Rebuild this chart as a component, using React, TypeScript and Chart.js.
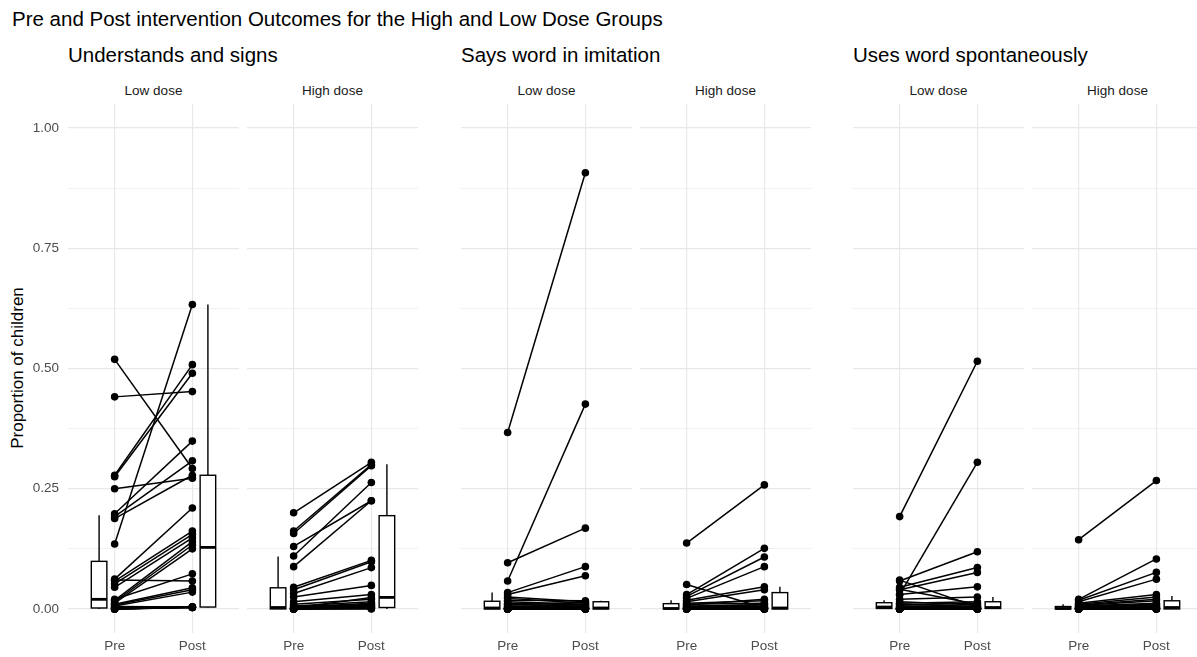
import React, { useEffect, useRef } from "react";
import Chart from "chart.js/auto";

// ---------- data ----------
const phases = ["Pre", "Post"];
const outcomeTitles = ["Understands and signs", "Says word in imitation", "Uses word spontaneously"];
const doseLabels = ["Low dose", "High dose"];
const mainTitle = "Pre and Post intervention Outcomes for the High and Low Dose Groups";
const yAxisTitle = "Proportion of children";
const yMajorTicks = [0, 0.25, 0.5, 0.75, 1];
const yMinorTicks = [0.125, 0.375, 0.625, 0.875];

const understandsLowPre = [0.519, 0.441, 0.278, 0.275, 0.25, 0.198, 0.192, 0.188, 0.135, 0.062, 0.058, 0.052, 0.045, 0.06, 0.018, 0.015, 0.012, 0.02, 0.01, 0.008, 0.006, 0.005, 0.003, 0.002, 0, 0, 0, 0.002, 0, 0];
const understandsLowPost = [0.292, 0.452, 0.508, 0.49, 0.272, 0.349, 0.308, 0.278, 0.633, 0.21, 0.162, 0.155, 0.148, 0.058, 0.14, 0.133, 0.125, 0.073, 0.044, 0.04, 0.035, 0.004, 0.004, 0.003, 0.004, 0.003, 0.004, 0.003, 0.003, 0.004];
const understandsHighPre = [0.2, 0.162, 0.157, 0.13, 0.11, 0.088, 0.045, 0.04, 0.032, 0.025, 0.015, 0.01, 0.006, 0.004, 0.003, 0.002, 0.001, 0, 0, 0, 0, 0, 0, 0.002];
const understandsHighPost = [0.305, 0.3, 0.298, 0.225, 0.263, 0.225, 0.101, 0.098, 0.086, 0.049, 0.03, 0.02, 0.015, 0.012, 0.01, 0.024, 0.008, 0.005, 0.004, 0.003, 0.002, 0, 0.001, 0.006];
const saysLowPre = [0.367, 0.058, 0.096, 0.034, 0.03, 0.025, 0.022, 0.018, 0.015, 0.012, 0.01, 0.008, 0.006, 0.005, 0.004, 0.003, 0.002, 0.002, 0.001, 0.001, 0, 0, 0, 0, 0, 0, 0, 0, 0, 0];
const saysLowPost = [0.907, 0.426, 0.168, 0.088, 0.069, 0.015, 0.012, 0.017, 0.01, 0.008, 0.005, 0.014, 0.003, 0.009, 0.002, 0.006, 0.001, 0.004, 0, 0.002, 0, 0.003, 0, 0.001, 0, 0.002, 0, 0, 0.001, 0];
const saysHighPre = [0.137, 0.051, 0.03, 0.026, 0.022, 0.018, 0.015, 0.012, 0.01, 0.008, 0.006, 0.005, 0.004, 0.003, 0.002, 0.002, 0.001, 0.001, 0, 0, 0, 0, 0, 0];
const saysHighPost = [0.258, 0.002, 0.126, 0.108, 0.088, 0.046, 0.04, 0.017, 0.012, 0.02, 0.008, 0.005, 0.01, 0.003, 0.004, 0.001, 0.002, 0, 0.001, 0, 0.003, 0, 0, 0];
const usesLowPre = [0.192, 0.03, 0.058, 0.045, 0.04, 0.06, 0.03, 0.02, 0.041, 0.015, 0.012, 0.01, 0.008, 0.006, 0.005, 0.004, 0.003, 0.002, 0.002, 0.001, 0.001, 0, 0, 0, 0, 0, 0, 0, 0, 0];
const usesLowPost = [0.515, 0.305, 0.119, 0.086, 0.076, 0.004, 0.046, 0.025, 0.01, 0.008, 0.015, 0.005, 0.012, 0.003, 0.006, 0.002, 0.001, 0.004, 0, 0.002, 0, 0.001, 0, 0.003, 0, 0, 0.001, 0, 0.002, 0];
const usesHighPre = [0.144, 0.02, 0.018, 0.015, 0.012, 0.01, 0.008, 0.007, 0.006, 0.005, 0.004, 0.003, 0.003, 0.002, 0.002, 0.001, 0.001, 0, 0, 0, 0, 0, 0, 0];
const usesHighPost = [0.267, 0.104, 0.076, 0.062, 0.03, 0.025, 0.02, 0.017, 0.012, 0.01, 0.008, 0.006, 0.004, 0.005, 0.002, 0.003, 0.001, 0, 0.002, 0, 0.001, 0, 0, 0];

// box stats: [lower whisker, Q1, median, Q3, upper whisker]
const understandsLowPreBox = [0, 0.002, 0.02, 0.099, 0.195];
const understandsLowPostBox = [0.003, 0.004, 0.128, 0.278, 0.633];
const understandsHighPreBox = [0, 0, 0.003, 0.044, 0.109];
const understandsHighPostBox = [0, 0.003, 0.024, 0.194, 0.301];
const saysLowPreBox = [0, 0, 0.002, 0.016, 0.034];
const saysLowPostBox = [0, 0, 0.002, 0.015, 0.017];
const saysHighPreBox = [0, 0, 0.001, 0.011, 0.018];
const saysHighPostBox = [0, 0, 0.002, 0.034, 0.046];
const usesLowPreBox = [0, 0.001, 0.004, 0.013, 0.018];
const usesLowPostBox = [0, 0.001, 0.003, 0.015, 0.025];
const usesHighPreBox = [0, 0, 0.001, 0.005, 0.01];
const usesHighPostBox = [0, 0, 0.003, 0.017, 0.027];

const panels = [
  { outcome: 0, dose: 0, pre: understandsLowPre, post: understandsLowPost, preBox: understandsLowPreBox, postBox: understandsLowPostBox },
  { outcome: 0, dose: 1, pre: understandsHighPre, post: understandsHighPost, preBox: understandsHighPreBox, postBox: understandsHighPostBox },
  { outcome: 1, dose: 0, pre: saysLowPre, post: saysLowPost, preBox: saysLowPreBox, postBox: saysLowPostBox },
  { outcome: 1, dose: 1, pre: saysHighPre, post: saysHighPost, preBox: saysHighPreBox, postBox: saysHighPostBox },
  { outcome: 2, dose: 0, pre: usesLowPre, post: usesLowPost, preBox: usesLowPreBox, postBox: usesLowPostBox },
  { outcome: 2, dose: 1, pre: usesHighPre, post: usesHighPost, preBox: usesHighPreBox, postBox: usesHighPostBox },
];

// ---------- layout ----------
const FONT = "'Liberation Sans', Arial, Helvetica, sans-serif";
const PANEL_W = 171;
const PLOT_TOP = 104;
const CANVAS_H = 553;
const XAXIS_H = 24;
const YAXIS_W = 68;
const GROUP_STEP = 392.5;
const FACET_STEP = 179;
const GRID = "#e8e8e8";
const panelLeft = (o: number, d: number) => Math.round(68 + o * GROUP_STEP + d * FACET_STEP);

const boxPlugin = {
  id: "boxes",
  beforeDatasetsDraw(chart: any, _args: any, opts: any) {
    const { ctx, scales } = chart;
    const x = scales.x, y = scales.y;
    (opts.items || []).forEach((b: any) => {
      const [lo, q1, med, q3, hi] = b.stats;
      const x0 = x.getPixelForValue(b.center - 0.1);
      const x1 = x.getPixelForValue(b.center + 0.1);
      const xc = x.getPixelForValue(b.center);
      ctx.save();
      ctx.strokeStyle = "#000";
      ctx.lineWidth = 1.4;
      ctx.beginPath();
      ctx.moveTo(xc, y.getPixelForValue(q3));
      ctx.lineTo(xc, y.getPixelForValue(hi));
      ctx.moveTo(xc, y.getPixelForValue(q1));
      ctx.lineTo(xc, y.getPixelForValue(lo));
      ctx.stroke();
      const yt = y.getPixelForValue(q3), yb = y.getPixelForValue(q1);
      ctx.fillStyle = "#fff";
      ctx.fillRect(x0, yt, x1 - x0, yb - yt);
      ctx.strokeRect(x0, yt, x1 - x0, yb - yt);
      ctx.lineWidth = 2.8;
      ctx.beginPath();
      ctx.moveTo(x0, y.getPixelForValue(med));
      ctx.lineTo(x1, y.getPixelForValue(med));
      ctx.stroke();
      ctx.restore();
    });
  },
};

function Panel({ p, showY }: { p: any; showY: boolean }) {
  const ref = useRef<HTMLCanvasElement>(null);
  const left = panelLeft(p.outcome, p.dose) - (showY ? YAXIS_W : 0);
  const width = PANEL_W + (showY ? YAXIS_W : 0);
  useEffect(() => {
    if (!ref.current) return;
    const datasets = p.pre.map((v: number, i: number) => ({
      data: [
        { x: 1, y: v },
        { x: 2, y: p.post[i] },
      ],
      borderColor: "#000",
      backgroundColor: "#000",
      borderWidth: 1.5,
      pointRadius: 3.8,
      pointHoverRadius: 3.8,
      pointBorderWidth: 0,
      pointBackgroundColor: "#000",
    }));
    const allY = [...yMajorTicks, ...yMinorTicks].sort((a, b) => a - b);
    const chart = new Chart(ref.current, {
      type: "line",
      data: { datasets },
      plugins: [boxPlugin],
      options: {
        animation: false,
        responsive: false,
        maintainAspectRatio: false,
        events: [],
        layout: { padding: 0, autoPadding: false },
        plugins: {
          legend: { display: false },
          tooltip: { enabled: false },
          boxes: {
            items: [
              { center: 0.8, stats: p.preBox },
              { center: 2.2, stats: p.postBox },
            ],
          },
        } as any,
        scales: {
          x: {
            type: "linear",
            min: 0.4,
            max: 2.6,
            position: "bottom",
            afterBuildTicks: (s: any) => {
              s.ticks = [{ value: 1 }, { value: 2 }];
            },
            afterFit: (s: any) => {
              s.height = XAXIS_H;
              s.paddingLeft = 0;
              s.paddingRight = 0;
            },
            ticks: {
              autoSkip: false,
              maxRotation: 0,
              padding: 5,
              color: "#4d4d4d",
              font: { family: FONT, size: 13.5 },
              callback: (v: any) => phases[Math.round(Number(v)) - 1] ?? "",
            },
            grid: { color: GRID, lineWidth: 1.2, drawTicks: false },
            border: { display: false },
          },
          y: {
            type: "linear",
            min: -0.05,
            max: 1.05,
            afterBuildTicks: (s: any) => {
              s.ticks = allY.map((v) => ({ value: v }));
            },
            afterFit: (s: any) => {
              s.width = showY ? YAXIS_W : 0;
              s.paddingTop = 0;
              s.paddingBottom = 0;
            },
            ticks: {
              display: showY,
              autoSkip: false,
              padding: 9,
              color: "#4d4d4d",
              font: { family: FONT, size: 13.5 },
              callback: (v: any) => (yMajorTicks.includes(Number(v)) ? Number(v).toFixed(2) : ""),
            },
            grid: {
              color: GRID,
              drawTicks: false,
              lineWidth: (ctx: any) => (ctx.tick && yMajorTicks.includes(ctx.tick.value) ? 1.2 : 0.6),
            },
            border: { display: false },
          },
        },
      },
    });
    return () => chart.destroy();
  }, [p, showY]);
  return (
    <canvas
      ref={ref}
      width={width}
      height={CANVAS_H}
      style={{ position: "absolute", left, top: PLOT_TOP, width, height: CANVAS_H }}
    />
  );
}

export default function App() {
  return (
    <div
      style={{
        position: "fixed",
        left: 0,
        top: 0,
        width: 1197,
        height: 657,
        overflow: "hidden",
        background: "#fff",
        fontFamily: FONT,
      }}
    >
      <div style={{ position: "absolute", left: 12, top: 9, fontSize: 20.5, lineHeight: 1, color: "#000", whiteSpace: "nowrap" }}>
        {mainTitle}
      </div>
      {outcomeTitles.map((t, o) => (
        <div
          key={t}
          style={{ position: "absolute", left: panelLeft(o, 0), top: 45, fontSize: 20.5, lineHeight: 1, color: "#000", whiteSpace: "nowrap" }}
        >
          {t}
        </div>
      ))}
      {panels.map((p, i) => (
        <div
          key={"s" + i}
          style={{
            position: "absolute",
            left: panelLeft(p.outcome, p.dose),
            width: PANEL_W,
            top: 83.5,
            textAlign: "center",
            fontSize: 13.5,
            lineHeight: 1,
            color: "#1a1a1a",
            whiteSpace: "nowrap",
          }}
        >
          {doseLabels[p.dose]}
        </div>
      ))}
      <div
        style={{
          position: "absolute",
          left: 17,
          top: 368,
          transform: "translate(-50%, -50%) rotate(-90deg)",
          fontSize: 17,
          lineHeight: 1,
          color: "#000",
          whiteSpace: "nowrap",
        }}
      >
        {yAxisTitle}
      </div>
      {panels.map((p, i) => (
        <Panel key={i} p={p} showY={i === 0} />
      ))}
    </div>
  );
}
